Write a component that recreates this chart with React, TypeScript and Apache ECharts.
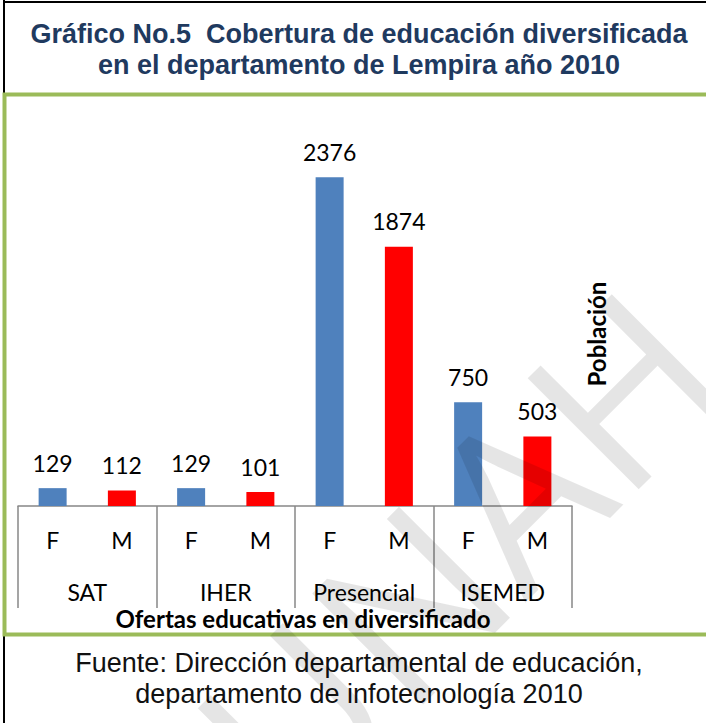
import React, { useEffect, useRef } from "react";
import * as echarts from "echarts";

const groups = ["SAT", "IHER", "Presencial", "ISEMED"];
const sexes = ["F", "M"];
const femaleValues = [129, 129, 2376, 750];
const maleValues = [112, 101, 1874, 503];
const titleLines = [
  "Gráfico No.5  Cobertura de educación diversificada",
  "en el departamento de Lempira año 2010",
];
const sourceLines = [
  "Fuente: Dirección departamental de educación,",
  "departamento de infotecnología 2010",
];
const xAxisTitle = "Ofertas educativas en diversificado";
const yAxisTitle = "Población";
const watermark = "UNAH";

const BLUE = "#4f81bd";
const RED = "#ff0000";
const LABEL_FONT = "Lato, 'Open Sans', sans-serif";
const ARIAL = "'Liberation Sans', Arial, sans-serif";

export default function App() {
  const ref = useRef<HTMLDivElement>(null);
  useEffect(() => {
    if (!ref.current) return;
    const chart = echarts.init(ref.current, null, { renderer: "svg" });
    const subCats: string[] = [];
    const data: any[] = [];
    groups.forEach((g, i) => {
      subCats.push(sexes[0]);
      data.push({ value: femaleValues[i], itemStyle: { color: BLUE } });
      subCats.push(sexes[1]);
      data.push({ value: maleValues[i], itemStyle: { color: RED } });
    });
    chart.setOption({
      animation: false,
      backgroundColor: "#ffffff",
      grid: { left: 18, right: 134, top: 160, bottom: 217, containLabel: false },
      xAxis: [
        {
          type: "category",
          data: subCats,
          position: "bottom",
          axisLine: { show: true, lineStyle: { color: "#878787", width: 1.5 } },
          axisTick: { show: false },
          axisLabel: {
            color: "#000",
            fontFamily: LABEL_FONT,
            fontSize: 23,
            margin: 22,
          },
        },
        {
          type: "category",
          data: groups,
          position: "bottom",
          axisLine: { show: false },
          axisTick: {
            show: true,
            length: 102,
            lineStyle: { color: "#878787", width: 1.5 },
          },
          axisLabel: {
            color: "#000",
            fontFamily: LABEL_FONT,
            fontSize: 23,
            margin: 74,
          },
        },
      ],
      yAxis: {
        type: "value",
        min: 0,
        max: 2500,
        show: false,
        splitLine: { show: false },
      },
      series: [
        {
          type: "bar",
          xAxisIndex: 0,
          data,
          barWidth: 28,
          label: {
            show: true,
            position: "top",
            distance: 14,
            color: "#000",
            fontFamily: LABEL_FONT,
            fontSize: 23,
          },
        },
      ],
      graphic: [
        {
          type: "line",
          shape: { x1: 4, y1: 0, x2: 4, y2: 723 },
          style: { stroke: "#000", lineWidth: 2 },
          z: 10,
        },
        {
          type: "line",
          shape: { x1: 3, y1: 2, x2: 706, y2: 2 },
          style: { stroke: "#000", lineWidth: 2 },
          z: 10,
        },
        {
          type: "rect",
          shape: { x: 4.5, y: 94.5, width: 760, height: 540 },
          style: { fill: "none", stroke: "#9bbb59", lineWidth: 4 },
          z: 11,
        },
        {
          type: "text",
          x: 359,
          y: 18,
          style: {
            text: titleLines.join("\n"),
            fill: "#1f3a5f",
            fontFamily: ARIAL,
            fontWeight: "bold",
            fontSize: 27,
            lineHeight: 31,
            textAlign: "center",
            textVerticalAlign: "top",
          },
        },
        {
          type: "text",
          x: 303,
          y: 618,
          style: {
            text: xAxisTitle,
            fill: "#000",
            fontFamily: LABEL_FONT,
            fontWeight: "bold",
            fontSize: 24,
            textAlign: "center",
            textVerticalAlign: "middle",
          },
        },
        {
          type: "text",
          x: 596,
          y: 334,
          rotation: Math.PI / 2,
          style: {
            text: yAxisTitle,
            fill: "#000",
            fontFamily: LABEL_FONT,
            fontWeight: "bold",
            fontSize: 24,
            textAlign: "center",
            textVerticalAlign: "middle",
          },
        },
        {
          type: "text",
          x: 359,
          y: 647,
          style: {
            text: sourceLines.join("\n"),
            fill: "#111",
            fontFamily: ARIAL,
            fontSize: 27,
            lineHeight: 31,
            textAlign: "center",
            textVerticalAlign: "top",
          },
        },
        {
          type: "text",
          x: 456,
          y: 551,
          rotation: Math.PI / 4,
          style: {
            text: watermark,
            fill: "rgba(0,0,0,0.1)",
            fontFamily: "'Open Sans', sans-serif",
            fontWeight: 400,
            fontSize: 220,
            textAlign: "center",
            textVerticalAlign: "middle",
          },
          z: 100,
        },
      ],
    });
    return () => chart.dispose();
  }, []);
  return (
    <div
      ref={ref}
      style={{ position: "fixed", left: 0, top: 0, width: 706, height: 723 }}
    />
  );
}
